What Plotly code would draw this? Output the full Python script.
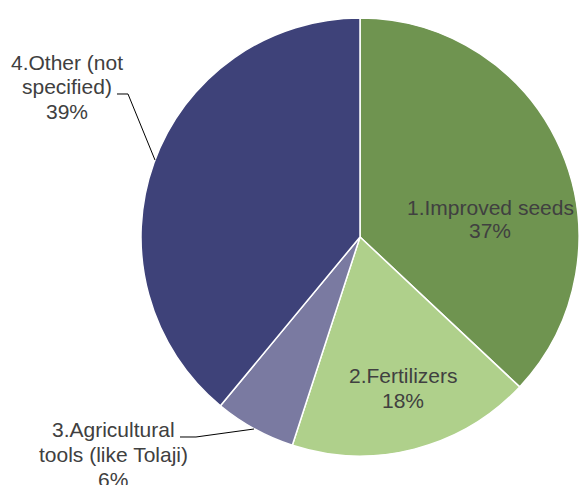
import plotly.graph_objects as go

labels = ["1.Improved seeds", "2.Fertilizers", "3.Agricultural tools (like Tolaji)", "4.Other (not specified)"]
values = [37, 18, 6, 39]
colors = ["#6F9450", "#AFD08B", "#7A7AA1", "#3E4279"]

# label text lines (split as in the reference)
label_lines = [
    ["1.Improved seeds"],
    ["2.Fertilizers"],
    ["3.Agricultural", "tools (like Tolaji)"],
    ["4.Other (not", "specified)"],
]

W, H = 579, 485
FONT = "Liberation Sans, Arial, sans-serif"
TXT = "#404040"
FS = 21

fig = go.Figure(go.Pie(
    labels=labels, values=values, sort=False, direction="clockwise", rotation=0,
    marker=dict(colors=colors, line=dict(color="white", width=1.5)),
    textinfo="none", hoverinfo="label+percent", showlegend=False,
    domain=dict(x=[141 / W, 1], y=[1 - 456 / H, 1 - 18 / H]),
))

# label positions (pixel centre x, baseline y of first line), line spacing
label_pos = [(490, 215, 23), (403, 383, 25), (113, 437, 25), (67, 70, 24.5)]

annotations = []
for i, (cx, by, sp) in enumerate(label_pos):
    lines = label_lines[i] + [f"{values[i]}%"]
    for j, t in enumerate(lines):
        base = by + j * sp
        ymid = base - 0.36 * FS
        annotations.append(dict(
            x=cx / W, y=1 - ymid / H, xref="paper", yref="paper",
            text=t, showarrow=False, xanchor="center", yanchor="middle",
            font=dict(family=FONT, size=FS, color=TXT),
        ))

def p(x, y):
    return f"{x / W:.5f},{1 - y / H:.5f}"

shapes = [
    dict(type="path", xref="paper", yref="paper",
         path=f"M {p(117, 94)} L {p(128, 94)} L {p(155, 160)}",
         line=dict(color="black", width=1)),
    dict(type="path", xref="paper", yref="paper",
         path=f"M {p(180, 437)} L {p(196, 437)} L {p(254, 429)}",
         line=dict(color="black", width=1)),
]

fig.update_layout(
    width=W, height=H, margin=dict(l=0, r=0, t=0, b=0),
    paper_bgcolor="white", plot_bgcolor="white",
    annotations=annotations, shapes=shapes,
)

fig.write_html("out.html", config={"displayModeBar": False},
               post_script="document.body.style.margin='0';document.body.style.overflow='hidden';")
